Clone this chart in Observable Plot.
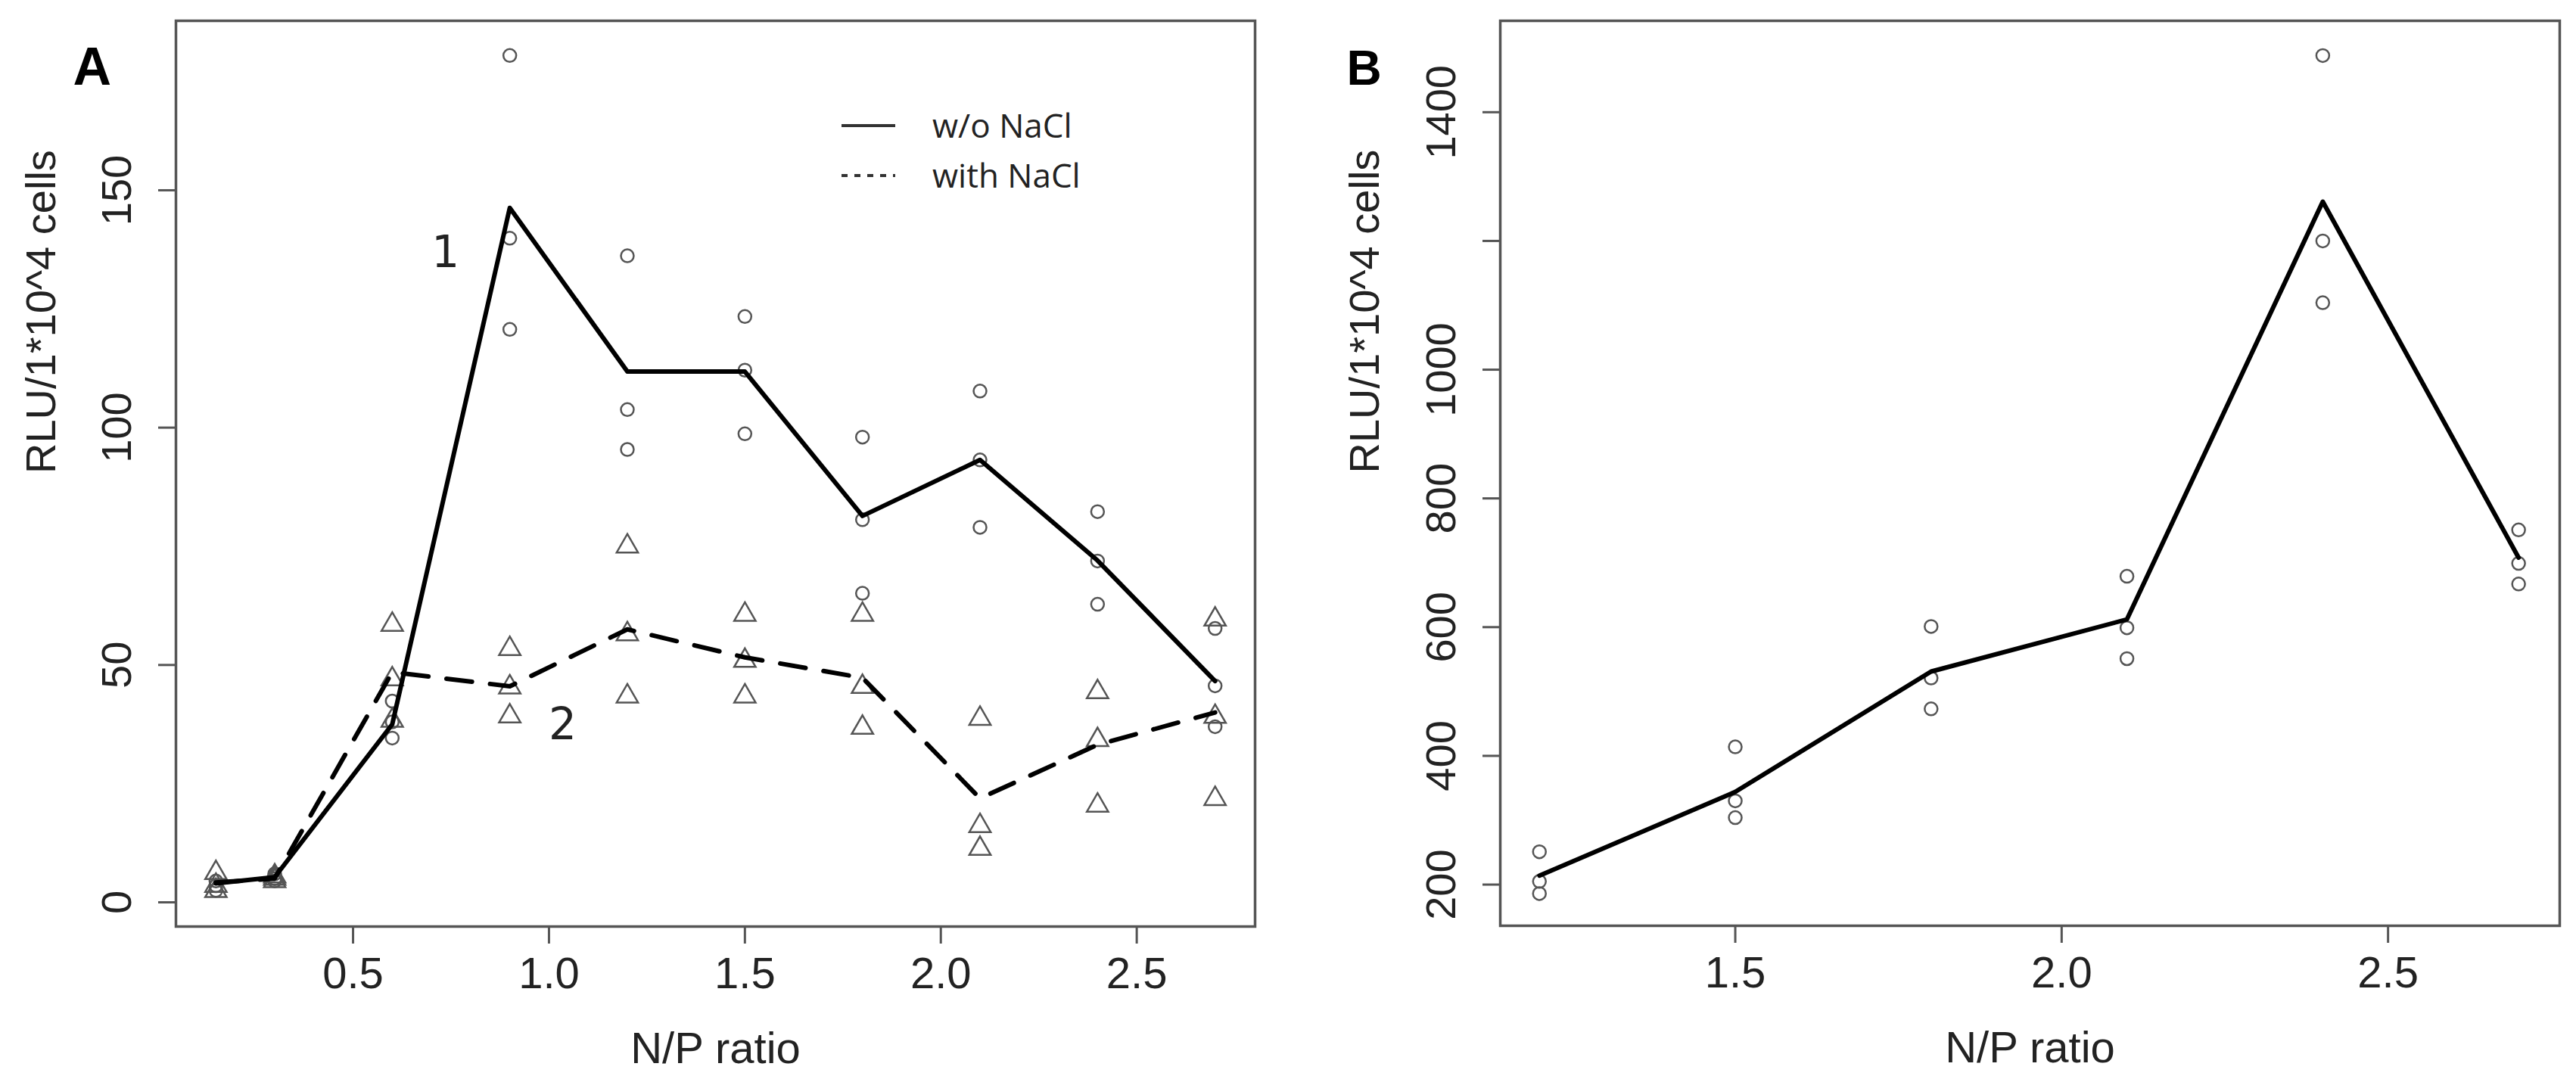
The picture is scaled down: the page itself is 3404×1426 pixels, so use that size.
<!DOCTYPE html>
<html>
<head>
<meta charset="utf-8">
<script src="https://cdn.jsdelivr.net/npm/d3@7"></script>
<script src="https://cdn.jsdelivr.net/npm/@observablehq/plot@0.6"></script>
<style>
  html, body { margin: 0; padding: 0; background: white; overflow: hidden; }
  #wrap { position: relative; width: 3404px; height: 1426px; display: flex; }
  #panelA, #panelB { position: relative; width: 1702px; height: 1426px; }
  #legend { position: absolute; left: 1090px; top: 120px; }
</style>
</head>
<body>
<div id="wrap">
  <div id="panelA"></div>
  <div id="panelB"></div>
</div>
<script>
// panel A: N/P ratios, three replicates each, and the two mean lines
var npA = [0.15, 0.3, 0.6, 0.9, 1.2, 1.5, 1.8, 2.1, 2.4, 2.7];
var repsNoNaCl = [
  [3.5, 2.5, 4.5], [5, 6, 4.5], [42.4, 38, 34.6], [178.4, 139.9, 120.7], [136.2, 103.8, 95.4],
  [123.4, 112.1, 98.7], [98.0, 80.6, 65.1], [107.7, 93.2, 79.0], [82.3, 71.9, 62.8], [57.7, 45.6, 37]
];
var repsNaCl = [
  [6.2, 2.4, 3.5], [5.5, 4.5, 5], [58.5, 47, 38.3], [53.4, 45.3, 39.2], [75.0, 56.5, 43.4],
  [60.6, 50.9, 43.4], [60.6, 45.4, 36.8], [38.7, 16.1, 11.3], [44.3, 34.2, 20.4], [59.6, 39.1, 21.8]
];
var lineNoNaCl = [4.0, 5.3, 37.5, 146.3, 111.8, 111.8, 81.4, 93.2, 72.0, 46.6];
var lineNaCl = [4.2, 5.0, 48.5, 45.5, 57.5, 51.6, 47.3, 21.9, 33.2, 40.0];
var xTicksA = [0.5, 1.0, 1.5, 2.0, 2.5];
var yTicksA = [0, 50, 100, 150];
var annotA = [{ x: 0.736, y: 136.8, t: "1" }, { x: 1.035, y: 37.3, t: "2" }];

// panel B
var npB = [1.2, 1.5, 1.8, 2.1, 2.4, 2.7];
var repsB = [[251, 205, 186], [414, 330, 304], [601, 521, 473], [679, 599, 551], [1488, 1200, 1104], [751, 699, 667]];
var lineB = [214, 344, 531, 612, 1261, 708];
var xTicksB = [1.5, 2.0, 2.5];
var yTicksB = [200, 400, 600, 800, 1000, 1200, 1400];
var yLabelSkipB = [1200];

var yTitle = "RLU/1*10^4 cells";
var xTitle = "N/P ratio";

function flat(xs, reps) {
  var out = [];
  xs.forEach(function (x, i) {
    reps[i].forEach(function (v) { out.push({ x: x, y: v }); });
  });
  return out;
}
function pairs(xs, ys) {
  return xs.map(function (x, i) { return { x: x, y: ys[i] }; });
}

var font = "Liberation Sans, Arial, sans-serif";
var grey = "#555";

function axes(xTicks, yTicks, yFmt) {
  return [
    Plot.frame({ stroke: grey, strokeWidth: 3.5 }),
    Plot.axisX({ ticks: xTicks, tickFormat: ".1f", tickSize: 23, tickPadding: 17, fontSize: 58, stroke: grey, strokeWidth: 3, label: null }),
    Plot.axisY({ ticks: yTicks, tickFormat: yFmt, tickSize: 23, tickPadding: 37, tickRotate: -90, fontSize: 56, stroke: grey, strokeWidth: 3, label: null }),
    Plot.text([xTitle], { text: function (d) { return d; }, frameAnchor: "bottom", dy: 139, lineAnchor: "top", fontSize: 58 })
  ];
}

var chartA = Plot.plot({
  width: 1702,
  height: 1426,
  marginLeft: 232,
  marginRight: 44,
  marginTop: 27,
  marginBottom: 202,
  style: { background: "white", fontFamily: font, color: "#222" },
  x: { domain: [0.048, 2.802] },
  y: { domain: [-5.1, 185.7] },
  marks: [
    axes(xTicksA, yTicksA, function (d) { return String(d); }),
    Plot.text([yTitle], { text: function (d) { return d; }, frameAnchor: "left", dx: -177, rotate: -90, fontSize: 56 }),
    Plot.text(["A"], { text: function (d) { return d; }, frameAnchor: "top-left", dx: -136, dy: 35, fontSize: 70, fontWeight: "bold", fill: "black" }),
    Plot.dot(flat(npA, repsNoNaCl), { x: "x", y: "y", symbol: "circle", r: 8.5, stroke: grey, strokeWidth: 2.5 }),
    Plot.dot(flat(npA, repsNaCl), { x: "x", y: "y", symbol: "triangle", r: 10.5, stroke: grey, strokeWidth: 2.5 }),
    Plot.line(pairs(npA, lineNoNaCl), { x: "x", y: "y", stroke: "black", strokeWidth: 6 }),
    Plot.line(pairs(npA, lineNaCl), { x: "x", y: "y", stroke: "black", strokeWidth: 6, strokeDasharray: "34,24" }),
    Plot.text(annotA, { x: "x", y: "y", text: "t", fontSize: 58, fontFamily: "DejaVu Sans", fill: "#222" })
  ]
});

var chartB = Plot.plot({
  width: 1702,
  height: 1426,
  marginLeft: 280,
  marginRight: 22,
  marginTop: 27,
  marginBottom: 203,
  style: { background: "white", fontFamily: font, color: "#222" },
  x: { domain: [1.14, 2.763] },
  y: { domain: [136, 1542] },
  marks: [
    axes(xTicksB, yTicksB, function (d) { return yLabelSkipB.indexOf(d) >= 0 ? "" : String(d); }),
    Plot.text([yTitle], { text: function (d) { return d; }, frameAnchor: "left", dx: -178, rotate: -90, fontSize: 56 }),
    Plot.text(["B"], { text: function (d) { return d; }, frameAnchor: "top-left", dx: -203, dy: 39, fontSize: 64, fontWeight: "bold", fill: "black" }),
    Plot.dot(flat(npB, repsB), { x: "x", y: "y", symbol: "circle", r: 8.5, stroke: grey, strokeWidth: 2.5 }),
    Plot.line(pairs(npB, lineB), { x: "x", y: "y", stroke: "black", strokeWidth: 6 })
  ]
});

document.getElementById("panelA").appendChild(chartA);
document.getElementById("panelB").appendChild(chartB);

// legend of panel A sits inside the plot area
var legendItems = [{ label: "w/o NaCl", dash: null }, { label: "with NaCl", dash: "8,9" }];
var leg = d3.select("#panelA").append("svg").attr("id", "legend").attr("width", 420).attr("height", 150);
legendItems.forEach(function (item, i) {
  var y = 46 + i * 66;
  leg.append("line").attr("x1", 22).attr("x2", 93).attr("y1", y).attr("y2", y)
    .attr("stroke", "#333").attr("stroke-width", 4).attr("stroke-dasharray", item.dash);
  leg.append("text").attr("x", 142).attr("y", y + 16).text(item.label)
    .attr("font-family", "Open Sans, sans-serif").attr("font-size", 44).attr("fill", "#222");
});
</script>
</body>
</html>
